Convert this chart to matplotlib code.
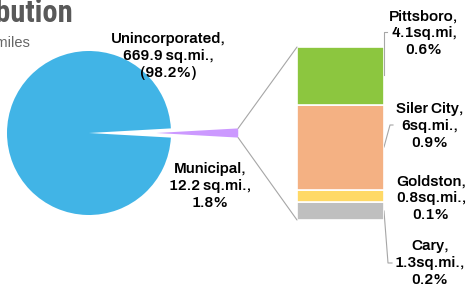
import matplotlib
matplotlib.use("Agg")
import matplotlib.pyplot as plt
from matplotlib.patches import ConnectionPatch
import numpy as np

# pie data (sq. miles)
pie_labels = ["Municipal", "Unincorporated"]
pie_values = [12.2, 669.9]
pie_colors = ["#CC99FF", "#41B4E6"]

# breakdown of the municipal slice, bottom to top
towns = ["Cary", "Goldston", "Siler City", "Pittsboro"]
town_values = [1.3, 0.8, 6.0, 4.1]
town_colors = ["#BFBFBF", "#FFD966", "#F4B183", "#8CC63F"]
town_text = ["Cary,\n1.3sq.mi.,\n0.2%",
             "Goldston,\n0.8sq.mi.,\n0.1%",
             "Siler City,\n6sq.mi.,\n0.9%",
             "Pittsboro,\n4.1sq.mi,\n0.6%"]

W, H = 469, 292
fig = plt.figure(figsize=(W / 100, H / 100), dpi=100)
fig.patch.set_facecolor("white")

# full-figure axes in pixel units (y up)
ax = fig.add_axes([0, 0, 1, 1])
R = 82
muni_angle = pie_values[0] / sum(pie_values) * 360
wedges, _ = ax.pie(pie_values, colors=pie_colors, explode=[0.82 * R, 0],
                   startangle=-muni_angle / 2, counterclock=True,
                   center=(89, H - 133), radius=R, frame=False)
ax.set_xlim(0, W)
ax.set_ylim(0, H)
ax.set_aspect("equal")
ax.axis("off")

# stacked column for the municipal breakdown
bx = fig.add_axes([297 / W, (H - 220) / H, 87 / W, 173 / H])
bottom = 0
for v, c in zip(town_values, town_colors):
    bx.bar(0, v, bottom=bottom, width=1, color=c, edgecolor="white", linewidth=1.2)
    bottom += v
bx.set_xlim(-0.5, 0.5)
bx.set_ylim(0, sum(town_values))
bx.axis("off")

# connector lines from the exploded wedge to the column
w = wedges[0]
cx, cy = w.center
t1, t2 = np.radians(w.theta1), np.radians(w.theta2)
p_top = (cx + w.r * np.cos(t2), cy + w.r * np.sin(t2))
p_bot = (cx + w.r * np.cos(t1), cy + w.r * np.sin(t1))
for p, yb in [(p_top, sum(town_values)), (p_bot, 0)]:
    con = ConnectionPatch(xyA=p, coordsA=ax.transData, xyB=(-0.5, yb), coordsB=bx.transData,
                          color="#A6A6A6", lw=0.8)
    fig.add_artist(con)

body = ["Archivo", "Liberation Sans"]
font = dict(family=body, weight="bold", fontsize=11, color="black",
            ha="center", va="center", linespacing=1.25)

# title (cut off at the left edge in the original)
ax.text(73, H - 22, "Distribution", ha="right", va="baseline", fontsize=22,
        fontweight="bold", color="#595959", family=["Roboto Condensed", "Archivo Narrow"])
ax.text(30, H - 43, "In square miles", ha="right", va="center", fontsize=10.5,
        color="#666666", family=["Liberation Sans"])

ax.text(168, H - 56, "Unincorporated,\n669.9 sq.mi.,\n(98.2%)", **font)
ax.text(210, H - 186, "Municipal,\n12.2 sq.mi.,\n1.8%", **font)

label_pos = [(430, H - 263), (431, H - 198), (430, H - 126), (424, H - 33)]
for (x, y), t in zip(label_pos, town_text):
    ax.text(x, y, t, **font)

# leader lines
lc = dict(color="#A6A6A6", lw=0.8)
ax.plot([384, 384, 387], [H - 75, H - 32, H - 32], **lc)
ax.plot([384, 390, 393], [H - 147, H - 125, H - 125], **lc)
ax.plot([384, 388, 392], [H - 211, H - 263, H - 263], **lc)

fig.savefig("out.png", dpi=100)
